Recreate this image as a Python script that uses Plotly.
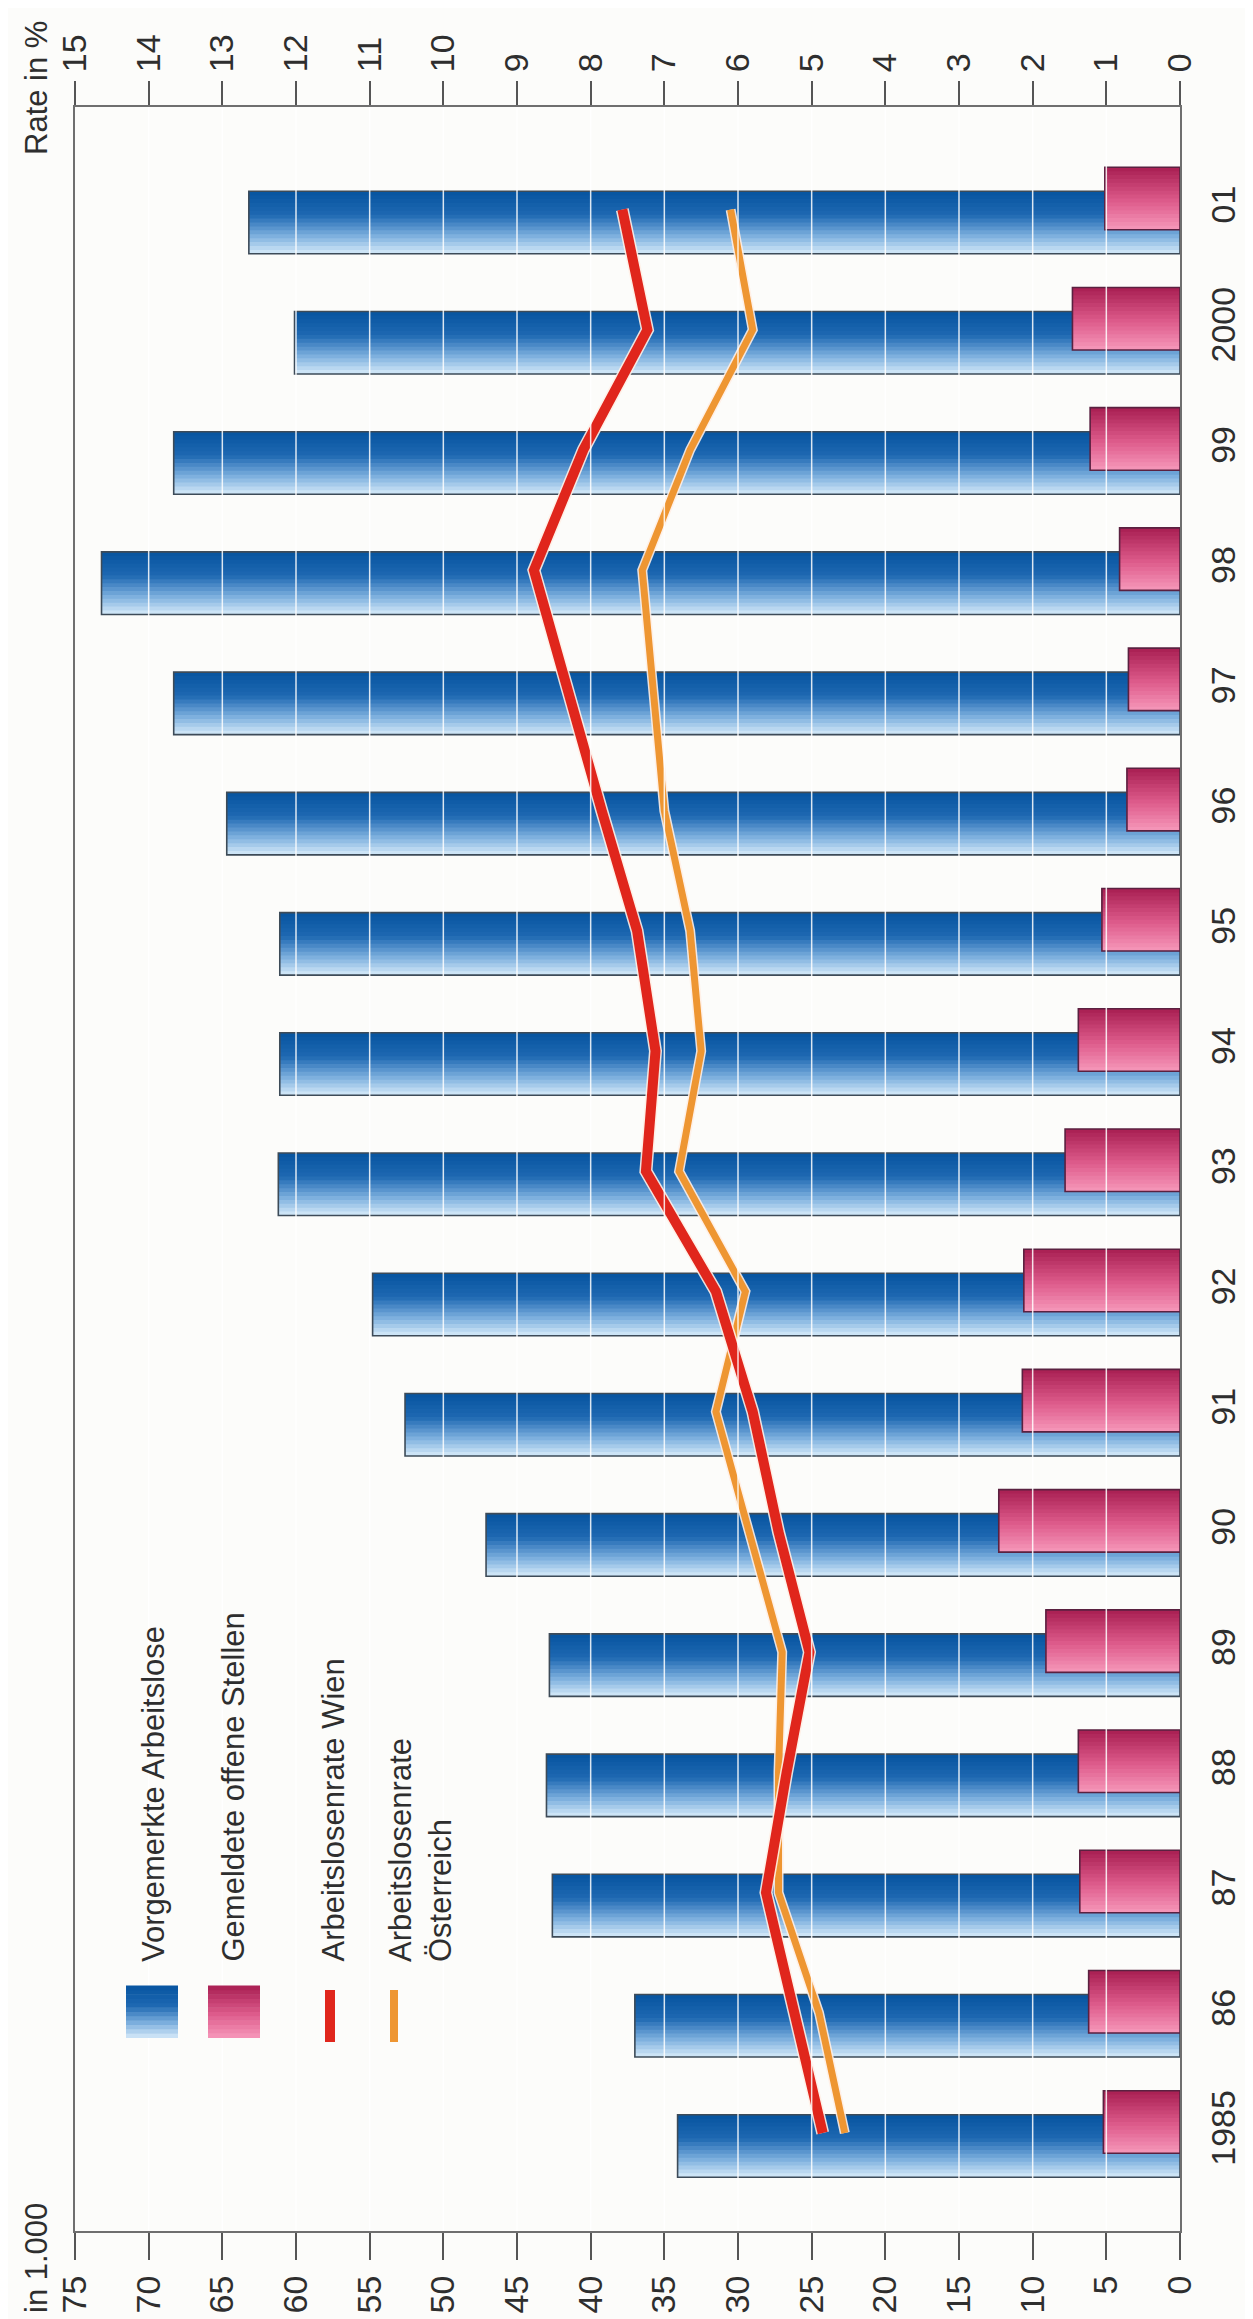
import plotly.graph_objects as go

# ---------------- data ----------------
years = ["1985", "86", "87", "88", "89", "90", "91", "92", "93", "94",
         "95", "96", "97", "98", "99", "2000", "01"]
arbeitslose = [34.1, 37.0, 42.6, 43.0, 42.8, 47.1, 52.6, 54.8, 61.2, 61.1,
               61.1, 64.7, 68.3, 73.2, 68.3, 60.1, 63.2]          # in 1.000
offene_stellen = [5.2, 6.2, 6.8, 6.9, 9.1, 12.3, 10.7, 10.6, 7.8, 6.9,
                  5.3, 3.6, 3.5, 4.1, 6.1, 7.3, 5.1]              # in 1.000
rate_wien = [4.85, 5.25, 5.62, 5.34, 5.03, 5.45, 5.8, 6.3, 7.25, 7.12,
             7.37, 7.85, 8.3, 8.77, 8.1, 7.23, 7.57]             # in %
rate_oesterreich = [4.55, 4.9, 5.45, 5.45, 5.4, 5.85, 6.3, 5.9, 6.8, 6.5,
                    6.65, 7.0, 7.15, 7.3, 6.65, 5.8, 6.1]        # in %
count_ticks = list(range(0, 80, 5))
rate_ticks = list(range(0, 16))

# ---------------- styling ----------------
W, H = 1253, 2319
PL, PR, PT, PB = 67, 1172, 99, 2223
BG = "#fcfcfa"
TXT = "#2e2e2e"
REG = "Liberation Sans, Arial, Helvetica, sans-serif"

BAR_W = 0.52
BLUE_OFF = -0.108 - BAR_W / 2
PINK_OFF = 0.092 - BAR_W / 2
N_STRIPS = 16

blue_stops = [(0.0, (214, 234, 249)), (0.3, (120, 172, 220)),
              (0.62, (30, 104, 178)), (1.0, (6, 84, 160))]
pink_stops = [(0.0, (246, 152, 186)), (0.45, (222, 92, 140)),
              (1.0, (168, 30, 82))]


def interp(stops, t):
    for (t0, c0), (t1, c1) in zip(stops[:-1], stops[1:]):
        if t0 <= t <= t1:
            f = (t - t0) / (t1 - t0)
            c = [round(a + (b - a) * f) for a, b in zip(c0, c1)]
            return f"rgb({c[0]},{c[1]},{c[2]})"
    c = stops[-1][1]
    return f"rgb({c[0]},{c[1]},{c[2]})"


def px(x):
    return (x - PL) / (PR - PL)


def py(y):
    return (PB - y) / (PB - PT)


fig = go.Figure()


def gradient_bars(values, base_off, stops, outline):
    for k in range(N_STRIPS):
        t0 = k / N_STRIPS
        tc = (k + 0.5) / N_STRIPS
        fig.add_trace(go.Bar(
            x=values, y=years, orientation="h",
            offset=base_off + BAR_W * t0, width=BAR_W * (1 - t0),
            marker=dict(color=interp(stops, tc), line=dict(width=0)),
            hoverinfo="skip", showlegend=False))
    fig.add_trace(go.Bar(
        x=values, y=years, orientation="h",
        offset=base_off, width=BAR_W,
        marker=dict(color="rgba(0,0,0,0)", line=dict(color=outline, width=1.6)),
        hoverinfo="skip", showlegend=False))


gradient_bars(arbeitslose, BLUE_OFF, blue_stops, "#3d4b58")
gradient_bars(offene_stellen, PINK_OFF, pink_stops, "#5a2140")

# rate lines (with light halo)
for vals, col, lw in [(rate_oesterreich, "#ee9632", 7), (rate_wien, "#e0261c", 10)]:
    fig.add_trace(go.Scatter(x=vals, y=years, xaxis="x2", yaxis="y", mode="lines",
                             line=dict(color="rgba(255,238,228,0.9)", width=lw + 3),
                             hoverinfo="skip", showlegend=False))
    fig.add_trace(go.Scatter(x=vals, y=years, xaxis="x2", yaxis="y", mode="lines",
                             line=dict(color=col, width=lw),
                             hoverinfo="skip", showlegend=False))

shapes = []
# white grid lines drawn over the bars
for v in count_ticks[1:-1]:
    shapes.append(dict(type="line", xref="x", yref="paper", x0=v, x1=v, y0=0, y1=1,
                       line=dict(color="rgba(255,255,255,0.85)", width=1.5), layer="above"))


# legend swatches
def grad_swatch(x0, x1, y0, y1, stops):
    n = 12
    for k in range(n):
        ya = y1 - (y1 - y0) * k / n
        yb = y1 - (y1 - y0) * (k + 1) / n
        shapes.append(dict(type="rect", xref="paper", yref="paper",
                           x0=px(x0), x1=px(x1), y0=py(ya), y1=py(yb - 0.5),
                           fillcolor=interp(stops, (k + 0.5) / n), line=dict(width=0),
                           layer="above"))


grad_swatch(118, 170, 1978, 2030, blue_stops)
grad_swatch(200, 252, 1978, 2030, pink_stops)
shapes.append(dict(type="rect", xref="paper", yref="paper", x0=px(317), x1=px(327),
                   y0=py(2034), y1=py(1982), fillcolor="#e0261c", line=dict(width=0), layer="above"))
shapes.append(dict(type="rect", xref="paper", yref="paper", x0=px(382), x1=px(390),
                   y0=py(2034), y1=py(1982), fillcolor="#ee9632", line=dict(width=0), layer="above"))

annotations = []


def rot_text(text, xc, y, yanchor, size=31):
    annotations.append(dict(text=text, xref="paper", yref="paper", x=px(xc), y=py(y),
                            xanchor="center", yanchor=yanchor, textangle=-90,
                            showarrow=False, align="left",
                            font=dict(family=REG, size=size, color=TXT)))


rot_text("Vorgemerkte Arbeitslose", 145, 1956, "bottom")
rot_text("Gemeldete offene Stellen", 225, 1956, "bottom")
rot_text("Arbeitslosenrate Wien", 325, 1956, "bottom")
rot_text("Arbeitslosenrate<br>Österreich", 412, 1956, "bottom")
rot_text("Rate in %", 28, 80, "middle")
rot_text("in 1.000", 28, 2250, "middle")

axis_common = dict(showgrid=False, zeroline=False, showline=True, linecolor="#6f6f6f",
                   linewidth=2, ticks="outside", tickwidth=1.5, tickcolor="#555",
                   tickangle=-90, tickfont=dict(family=REG, size=34, color=TXT))

fig.update_layout(
    width=W, height=H,
    margin=dict(l=PL, r=W - PR, t=PT, b=H - PB, autoexpand=False),
    paper_bgcolor=BG, plot_bgcolor=BG,
    barmode="overlay", showlegend=False,
    xaxis=dict(range=[75, 0], tickmode="array", tickvals=count_ticks,
               ticktext=[str(v) for v in count_ticks], ticklen=27,
               ticklabelstandoff=2, **axis_common),
    xaxis2=dict(range=[15, 0], overlaying="x", side="top", anchor="y",
                tickmode="array", tickvals=rate_ticks,
                ticktext=[str(v) for v in rate_ticks], ticklen=24,
                ticklabelstandoff=2, **axis_common),
    yaxis=dict(type="category", categoryorder="array", categoryarray=years,
               range=[-0.815, 16.853], side="right", ticks="", mirror=True,
               showgrid=False, zeroline=False, showline=True, linecolor="#6f6f6f",
               linewidth=2, tickangle=-90, ticklabelstandoff=12,
               tickfont=dict(family=REG, size=34, color=TXT)),
    shapes=shapes, annotations=annotations,
)

fig.write_html("out.html")
